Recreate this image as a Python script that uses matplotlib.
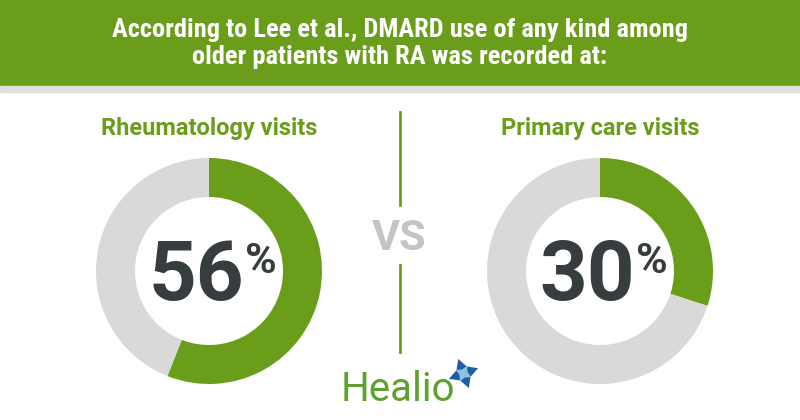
import matplotlib
matplotlib.use("Agg")
import matplotlib.pyplot as plt
from matplotlib.patches import Rectangle

# datos del gráfico
groups = ["Rheumatology visits", "Primary care visits"]
values = [56, 30]
title_lines = ["According to Lee et al., DMARD use of any kind among",
               "older patients with RA was recorded at:"]

GREEN = "#6a9e1a"
GRAY = "#d9d9d9"
DARK = "#373d3f"

W, H = 800, 420
fig = plt.figure(figsize=(8, 4.2), dpi=100)
ax = fig.add_axes([0, 0, 1, 1])


def py(y):
    # coordenadas de píxel desde arriba
    return H - y


cond = ["Roboto Condensed", "Liberation Sans Narrow", "Roboto"]

# cabecera verde
ax.add_patch(Rectangle((0, py(86)), W, 86, color=GREEN, zorder=1))
ax.add_patch(Rectangle((0, py(92)), W, 6, color="#dedede", zorder=1))
ax.text(W / 2, py(30), title_lines[0], ha="center", va="center", color="white",
        fontsize=19, fontweight="bold", family=cond, zorder=3)
ax.text(W / 2, py(57), title_lines[1], ha="center", va="center", color="white",
        fontsize=19, fontweight="bold", family=cond, zorder=3)

centers = [(209, 271), (600, 271)]
radius = 113
ring = 39

for name, v, (cx, cy) in zip(groups, values, centers):
    ax.pie([v, 100 - v], colors=[GREEN, GRAY], startangle=90, counterclock=False,
           center=(cx, py(cy)), radius=radius,
           wedgeprops=dict(width=ring, linewidth=0))
    ax.text(cx, py(129), name, ha="center", va="center", color=GREEN,
            fontsize=17, fontweight="bold", family="Roboto")
    ax.text(cx - 13, py(300), str(v), ha="center", va="baseline", color=DARK,
            fontsize=60, fontweight="bold", family="Roboto")
    ax.text(cx + 52, py(273), "%", ha="center", va="baseline", color=DARK,
            fontsize=31, fontweight="bold", family="Roboto")

# separador "VS"
ax.plot([400, 400], [py(112), py(205)], color=GREEN, lw=2)
ax.plot([400, 400], [py(265), py(352)], color=GREEN, lw=2)
ax.text(399, py(239), "VS", ha="center", va="center", color="#c4c4c4",
        fontsize=31, fontweight="bold", family="Roboto")

# logo Healio
ax.text(398, py(401), "Healio", ha="center", va="baseline", color="#5fa12e",
        fontsize=29, family="Roboto")
ax.scatter([463], [py(373)], marker=(4, 1, 20), s=500, color="#1f5fa0",
           linewidths=0, zorder=4)
ax.scatter([463], [py(373)], marker=(4, 1, 65), s=150, color="#8fc0e6",
           linewidths=0, zorder=5)

ax.set_xlim(0, W)
ax.set_ylim(0, H)
ax.set_aspect("auto")
ax.axis("off")

fig.savefig("out.png", dpi=100, facecolor="white")
